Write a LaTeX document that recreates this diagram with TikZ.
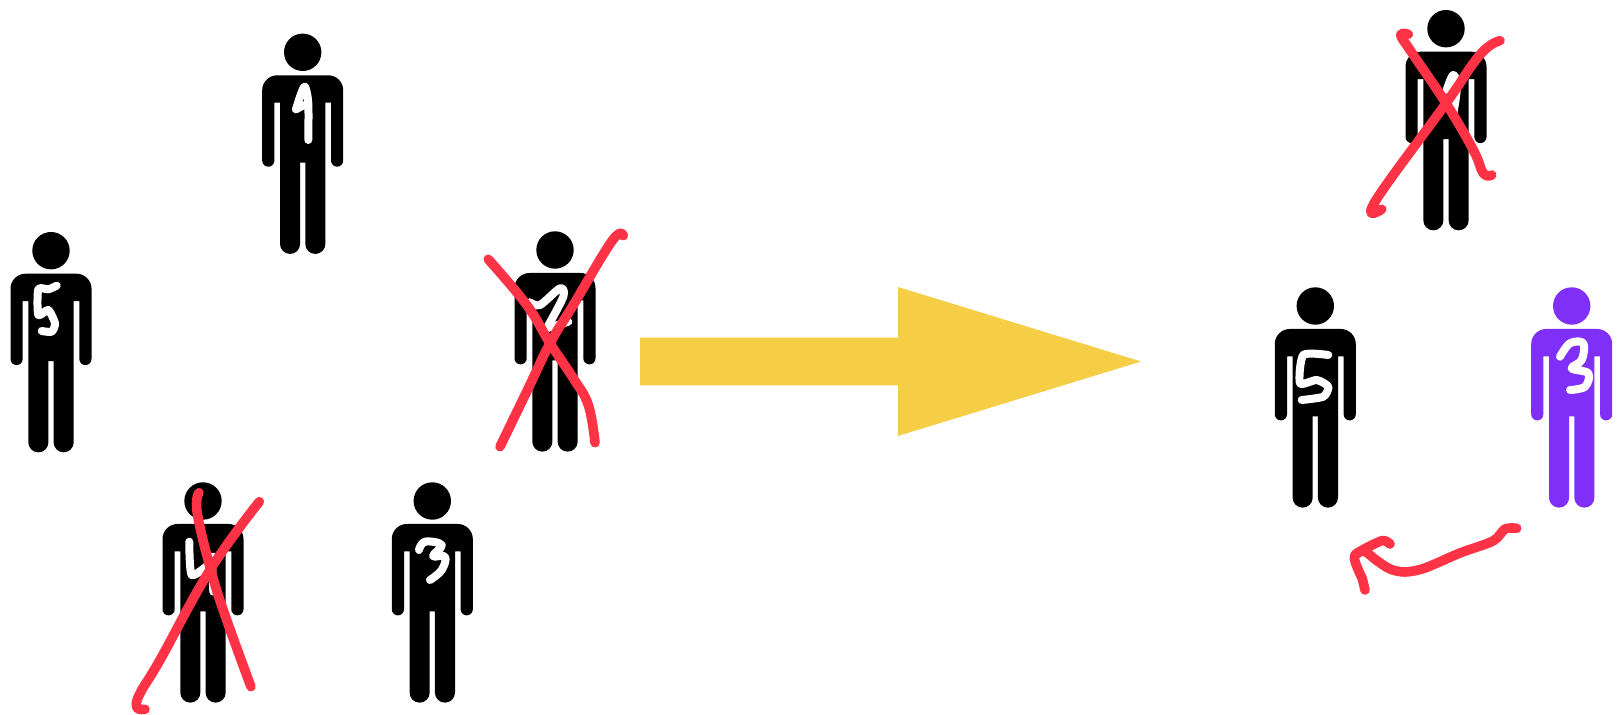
\documentclass[tikz,border=0pt]{standalone}
\usepackage{xcolor}
\usepackage{tikz}

\definecolor{inkred}{HTML}{FF3345}
\definecolor{bigarrow}{HTML}{F6CE46}
\definecolor{chosen}{HTML}{7F2FF8}

\begin{document}
\begin{tikzpicture}[
  x=0.5pt, y=-0.5pt,
  person/.pic={
    \fill[pic actions] (0,0) circle (18.7);
    \fill[pic actions, rounded corners=7.5pt] (-40.5,60) -- (-40.5,23) -- (40.5,23) -- (40.5,60)
      [sharp corners] -- (40.5,108.3) arc (0:180:6.1) -- (28.3,50.4) -- (22.7,50.4) -- (22.7,191.6)
      arc (0:180:10.05) -- (2.6,110.4) -- (-2.6,110.4) -- (-2.6,191.6)
      arc (0:180:10.05) -- (-22.7,50.4) -- (-28.3,50.4) -- (-28.3,108.3)
      arc (0:180:6.1) -- cycle;
  },
  digit/.style={draw=white, line width=4pt, line cap=round, line join=round},
  redink/.style={draw=inkred, line width=4.8pt, line cap=round, line join=round},
]

\useasboundingbox (0,0) rectangle (1624,715);
\fill[white] (0,0) rectangle (1624,715);

% --- big arrow ---
\fill[bigarrow] (640,337.6) -- (898,337.6) -- (898,287) -- (1141,361.5)
  -- (898,436) -- (898,385.3) -- (640,385.3) -- cycle;

% --- people, left group ---
\pic[fill=black] (p1) at (302.7,52.3) {person};
\pic[fill=black] (p5) at (51,250.7) {person};
\pic[fill=black] (p2) at (555,250) {person};
\pic[fill=black] (p4) at (203,501) {person};
\pic[fill=black] (p3) at (432.3,501) {person};

% --- people, right group ---
\pic[fill=black] (q1) at (1446,28.7) {person};
\pic[fill=black] (q5) at (1315.3,306) {person};
\pic[fill=chosen] (q3) at (1571.7,306) {person};

% --- numbers on the chests ---
\draw[digit] plot[smooth, tension=0.5] coordinates {(296,109.3) (301,94) (305,86.7) (308.3,103.3) (308.3,140)};
\draw[digit] (296,109.3) -- (304,105);
\draw[digit] plot[smooth, tension=0.4] coordinates {(56.7,285.7) (48.3,289.3) (38.3,289.3) (38.3,315) (48.3,310) (55,323.3) (51.7,331.7) (41.7,331)};
\draw[digit] plot[smooth, tension=0.5] coordinates {(530,302.3) (540,305) (560,288.3) (563.3,296.7) (546.7,328.3)};
\draw[digit] (546.7,328.3) -- (568.3,321.7);
\draw[digit] plot[smooth, tension=0.4] coordinates {(189.3,541.7) (191.7,575) (210,563.3) (215,556.7)};
\draw[digit] (211.7,556.7) -- (213.3,591.7);
\draw[digit] plot[smooth, tension=0.7] coordinates {(419,550) (425,541.7) (441.7,545) (433,556) (445,556.7) (441.7,570) (430,580)};
\draw[digit] plot[smooth, tension=0.7] coordinates {(1446.7,90) (1453.3,75) (1456.7,88.3) (1453.3,113.3)};
\draw[digit] plot[smooth, tension=0.4] coordinates {(1328.3,355) (1303.3,355) (1300,383.3) (1316.7,380) (1328.3,386.7) (1323.3,396.7) (1301.7,400)};
\draw[digit] plot[smooth, tension=0.6] coordinates {(1560,356.7) (1570,343.3) (1583.3,343.3) (1581.7,360) (1571.7,368.3) (1588.3,373.3) (1585,386.7) (1570,390)};

% --- crossed out ---
\draw[redink] plot[smooth, tension=0.7] coordinates {(488.3,259.3) (526.7,305) (550,343.3) (573.3,378.3) (588.3,405) (595,442.7)};
\draw[redink] plot[smooth, tension=0.7] coordinates {(623.3,235.7) (612,241) (573.3,305) (550,343.3) (528.3,388.3) (500,446.7)};
\draw[redink] plot[smooth, tension=0.7] coordinates {(199,492.7) (197.3,513.3) (211.7,573.3) (226.7,620) (251,686.7)};
\draw[redink] plot[smooth, tension=0.7] coordinates {(259.3,501.7) (210,570) (160,660) (140,693.3) (136.7,707.3) (145,709.3)};
\draw[redink] plot[smooth, tension=0.7] coordinates {(1408.3,34.3) (1400.7,35) (1410,50) (1446,103.3) (1473.3,150) (1483.3,173.3) (1491.7,175)};
\draw[redink] plot[smooth, tension=0.7] coordinates {(1500,40.7) (1488.3,46.7) (1473.3,63.3) (1446,103.3) (1375,201.7) (1381.7,209.3)};

% --- hand drawn arrow ---
\draw[redink] plot[smooth, tension=0.5] coordinates {(1516.7,528.3) (1505,529) (1493,541) (1460,553) (1425,568) (1405,572) (1390,569) (1376,560) (1364,551) (1355,555)};
\draw[redink] plot[smooth, tension=0.4] coordinates {(1390,544) (1381.7,540.7) (1355,555) (1358.3,570) (1362,578) (1365,590)};

\end{tikzpicture}
\end{document}
